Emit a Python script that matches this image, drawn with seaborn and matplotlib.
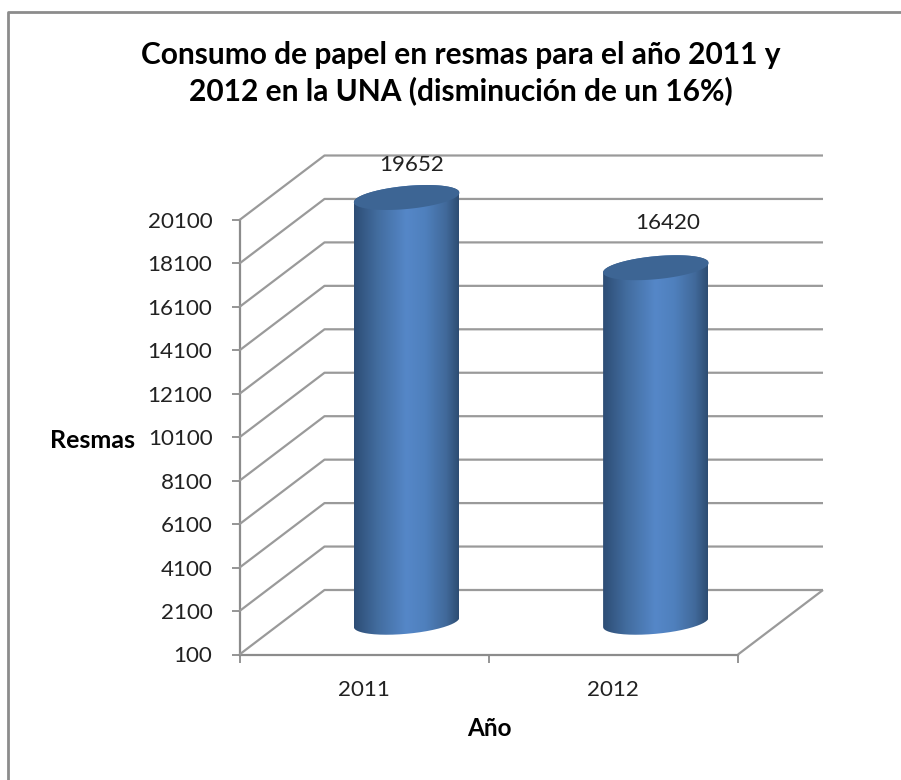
import numpy as np
import pandas as pd
import matplotlib
matplotlib.use("Agg")
import matplotlib.pyplot as plt
import seaborn as sns
from matplotlib.colors import LinearSegmentedColormap
from matplotlib.lines import Line2D
from matplotlib.patches import Polygon
from matplotlib.path import Path
from matplotlib.transforms import Affine2D, IdentityTransform

years = ["2011", "2012"]
resmas = [19652, 16420]
y_ticks = [100, 2100, 4100, 6100, 8100, 10100, 12100, 14100, 16100, 18100, 20100]
title = "Consumo de papel en resmas para el año 2011 y\n2012 en la UNA (disminución de un 16%)"
x_title = "Año"
y_title = "Resmas"

W, H = 901, 780
DEPTH_X, DEPTH_Y = 85, 64.5          # depth of the 3-D box, in pixels
GREY = "#9a9a9a"
TEXT = "#222222"
TICK_SIZE = 16.1

sns.set_theme(style="white")
plt.rcParams["font.family"] = ["Lato", "DejaVu Sans"]

fig = plt.figure(figsize=(W / 100, H / 100), dpi=100)
ax = fig.add_axes([239.5 / W, 1 - 654.5 / H, 498.5 / W, 434.5 / H])
df = pd.DataFrame({"year": years, "resmas": resmas})
sns.barplot(data=df, x="year", y="resmas", color="#3d6594", width=105 / 249.25,
            saturation=1, ax=ax, legend=False)
ax.set_xlim(-0.5, 1.5)
ax.set_ylim(y_ticks[0], y_ticks[-1])
ax.set_xlabel("")
ax.set_ylabel("")
sns.despine(ax=ax, left=True, bottom=True, top=True, right=True)
ax.patch.set_visible(False)

back = ax.transData + Affine2D().translate(DEPTH_X, DEPTH_Y)
mid = ax.transData + Affine2D().translate(DEPTH_X / 2, DEPTH_Y / 2)

# walls of the 3-D box
pix = IdentityTransform()
line_kw = dict(color=GREY, lw=1.6, clip_on=False, zorder=1, solid_capstyle="butt", transform=pix)
x0, x1 = ax.get_xlim()
for v in y_ticks:
    f = ax.transData.transform((x0, v))
    b = back.transform((x0, v))
    e = back.transform((x1, v))
    fig.add_artist(Line2D([f[0], b[0], e[0]], [f[1], b[1], e[1]], **line_kw))
f = ax.transData.transform((x1, y_ticks[0]))
b = back.transform((x1, y_ticks[0]))
fig.add_artist(Line2D([f[0], b[0]], [f[1], b[1]], **line_kw))

for s in ("left", "bottom"):
    ax.spines[s].set_visible(True)
    ax.spines[s].set_color("#8c8c8c")
    ax.spines[s].set_linewidth(1.6)
ax.set_yticks(y_ticks)
ax.set_yticklabels([str(v) for v in y_ticks])
ax.set_xticks([-0.5, 0.5, 1.5], labels=["", "", ""])
ax.tick_params(axis="both", which="both", left=True, bottom=True, length=5.5, width=1.3,
               color="#8c8c8c", labelsize=TICK_SIZE, labelcolor=TEXT)
ax.tick_params(axis="y", pad=14)
for i, yr in enumerate(years):
    ax.annotate(yr, xy=(i, y_ticks[0]), xycoords="data", xytext=(0, -36 * 0.72),
                textcoords="offset points", ha="center", va="center",
                fontsize=TICK_SIZE, color=TEXT, annotation_clip=False)

# cylinders, built on the bars seaborn placed
cmap = LinearSegmentedColormap.from_list(
    "cyl", [(0, "#2d4d75"), (0.22, "#426c9e"), (0.5, "#5587c8"), (0.68, "#4f80bd"),
            (0.88, "#41699a"), (1, "#2d4d72")])
grad = np.linspace(0, 1, 256).reshape(1, -1)
A, B, THETA = 53.0, 11.5, np.deg2rad(5.4)
t = np.linspace(0, 2 * np.pi, 241)
ex = A * np.cos(t) * np.cos(THETA) - B * np.sin(t) * np.sin(THETA)
ey = A * np.cos(t) * np.sin(THETA) + B * np.sin(t) * np.cos(THETA)
il, ir = np.argmin(ex), np.argmax(ex)
label_offsets = [(5.5, 32.7), (12, 45)]

for bar, value, off in zip(ax.patches, resmas, label_offsets):
    bar.set_y(y_ticks[0])
    bar.set_height(value - y_ticks[0])
    bar.set_visible(False)
    cx = bar.get_x() + bar.get_width() / 2
    bot = mid.transform((cx, y_ticks[0]))
    top = mid.transform((cx, value))
    lo = mid.transform((bar.get_x(), y_ticks[0]))
    hi = mid.transform((bar.get_x() + bar.get_width(), value))
    # outline: lower arc of the bottom ellipse, upper arc of the top ellipse
    idx = np.arange(il, ir + 1) if il < ir else np.r_[il:len(t), 0:ir + 1]
    lower = np.c_[bot[0] + ex[idx], bot[1] + ey[idx]]
    idx2 = np.arange(ir, il + 1) if ir < il else np.r_[ir:len(t), 0:il + 1]
    upper = np.c_[top[0] + ex[idx2], top[1] + ey[idx2]]
    outline = np.vstack([lower, upper])
    inv = fig.transFigure.inverted()
    (a0, b0), (a1, b1) = inv.transform(lo), inv.transform(hi)
    cax = fig.add_axes([a0, b0 - 0.03, a1 - a0, b1 - b0 + 0.06], zorder=3)
    cax.axis("off")
    img = cax.imshow(grad, cmap=cmap, aspect="auto")
    img.set_clip_path(Path(outline), pix)
    lid = Polygon(np.c_[top[0] + ex, top[1] + ey], closed=True, transform=pix,
                  facecolor="#3d6594", edgecolor="none", zorder=4)
    fig.add_artist(lid)
    fig.text((top[0] + off[0]) / W, (top[1] + off[1]) / H, str(value), ha="center", va="center",
             fontsize=TICK_SIZE, color=TEXT, zorder=5)

fig.text(461 / W, 1 - 73 / H, title, ha="center", va="center", fontsize=21.5,
         fontweight="bold", color="black", linespacing=1.3)
fig.text(92 / W, 1 - 440 / H, y_title, ha="center", va="center", fontsize=18, fontweight="bold", color="black")
fig.text(489 / W, 1 - 729 / H, x_title, ha="center", va="center", fontsize=17.5, fontweight="bold", color="black")

# chart frame: only the left and top edges are in view
fig.add_artist(Line2D([8, 8, W], [0, H - 12, H - 12], color="#8c8c8c", lw=2, transform=pix, clip_on=False))

fig.savefig("out.png", dpi=100, facecolor="white")
